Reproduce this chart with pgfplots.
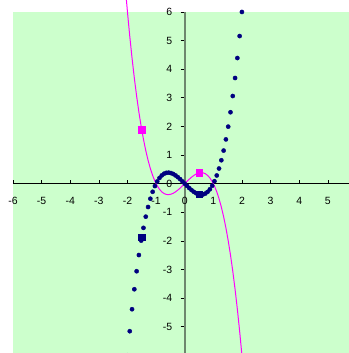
\documentclass[border=0pt]{standalone}
\usepackage{fontspec}
\setmainfont{Liberation Sans}
\usepackage{pgfplots}
\pgfplotsset{compat=1.18}
\definecolor{chartbg}{RGB}{204,255,204}
\definecolor{navy}{RGB}{0,0,128}
\definecolor{mag}{RGB}{255,0,255}
\definecolor{yaxisgray}{RGB}{110,135,110}
\begin{document}
\begin{tikzpicture}
\begin{axis}[
  x=28.68pt, y=28.67pt,
  xmin=-6, xmax=5.73, ymin=-5.92, ymax=6,
  axis lines=middle, axis line style={-},
  x axis line style={black, line width=0.8pt},
  y axis line style={yaxisgray, line width=2pt},
  axis background/.style={fill=chartbg},
  xtick={-6,...,5}, ytick={-6,...,6},
  hide obscured x ticks=false, hide obscured y ticks=false,
  major tick length=4pt,
  xtick align=inside, ytick align=outside,
  tick style={black, line width=0.6pt},
  tick label style={font=\fontsize{10.5}{12}\selectfont},
  /pgf/number format/assume math mode=true,
  xticklabel style={anchor=north, yshift=-10pt},
  yticklabel style={anchor=east, xshift=-5pt},
  clip=false,
]
\addplot[mag, line width=1pt] coordinates {
  (-2.08,6.919)(-2.00,6)(-1.92,5.158)(-1.84,4.390)(-1.76,3.692)(-1.68,3.062)
  (-1.60,2.496)(-1.52,1.992)(-1.44,1.546)(-1.36,1.155)(-1.28,0.817)(-1.20,0.528)
  (-1.12,0.285)(-1.04,0.085)(-0.96,-0.075)(-0.88,-0.199)(-0.80,-0.288)(-0.72,-0.347)
  (-0.64,-0.378)(-0.56,-0.384)(-0.48,-0.369)(-0.40,-0.336)(-0.32,-0.287)(-0.24,-0.226)
  (-0.16,-0.156)(-0.08,-0.079)(0,0)
  (0.08,0.079)(0.16,0.156)(0.24,0.226)(0.32,0.287)(0.40,0.336)(0.48,0.369)
  (0.56,0.384)(0.64,0.378)(0.72,0.347)(0.80,0.288)(0.88,0.199)(0.96,0.075)
  (1.04,-0.085)(1.12,-0.285)(1.20,-0.528)(1.28,-0.817)(1.36,-1.155)(1.44,-1.546)
  (1.52,-1.992)(1.60,-2.496)(1.68,-3.062)(1.76,-3.692)(1.84,-4.390)(1.92,-5.158)
  (2.00,-6)(2.08,-6.919)};
\addplot[only marks, mark=square*, mark size=3.3pt, mag] coordinates {
  (-1.5,1.875)(0.5,0.375)};
\addplot[only marks, mark=*, mark size=2.1pt, navy] coordinates {
  (-2.08,-6.919)(-2.00,-6)(-1.92,-5.158)(-1.84,-4.390)(-1.76,-3.692)(-1.68,-3.062)
  (-1.60,-2.496)(-1.52,-1.992)(-1.44,-1.546)(-1.36,-1.155)(-1.28,-0.817)(-1.20,-0.528)
  (-1.12,-0.285)(-1.04,-0.085)(-0.96,0.075)(-0.88,0.199)(-0.80,0.288)(-0.72,0.347)
  (-0.64,0.378)(-0.56,0.384)(-0.48,0.369)(-0.40,0.336)(-0.32,0.287)(-0.24,0.226)
  (-0.16,0.156)(-0.08,0.079)(0,0)
  (0.08,-0.079)(0.16,-0.156)(0.24,-0.226)(0.32,-0.287)(0.40,-0.336)(0.48,-0.369)
  (0.56,-0.384)(0.64,-0.378)(0.72,-0.347)(0.80,-0.288)(0.88,-0.199)(0.96,-0.075)
  (1.04,0.085)(1.12,0.285)(1.20,0.528)(1.28,0.817)(1.36,1.155)(1.44,1.546)
  (1.52,1.992)(1.60,2.496)(1.68,3.062)(1.76,3.692)(1.84,4.390)(1.92,5.158)
  (2.00,6)(2.08,6.919)};
\addplot[only marks, mark=square*, mark size=3.3pt, navy] coordinates {
  (-1.5,-1.875)(0.5,-0.375)};
\coordinate (bl) at (rel axis cs:0,0);
\coordinate (tr) at (rel axis cs:1,1);
\end{axis}
\pgfresetboundingbox
\path ([xshift=-13pt]bl) rectangle ([yshift=12pt]tr);
\end{tikzpicture}
\end{document}
